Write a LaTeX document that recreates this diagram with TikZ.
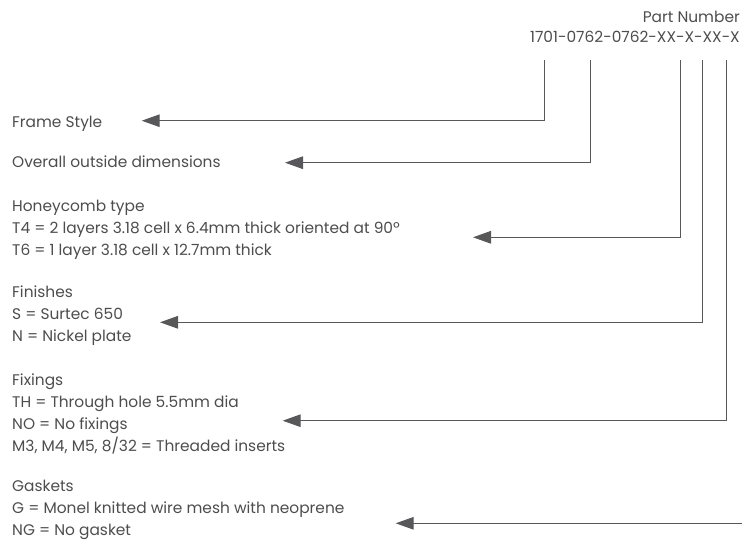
\documentclass[tikz,border=0pt]{standalone}
\usepackage{fontspec}
\setmainfont{Poppins}
\usetikzlibrary{arrows.meta}
\definecolor{txtgrey}{HTML}{4D4D4F}
\definecolor{linegrey}{HTML}{58585A}

\begin{document}
\begin{tikzpicture}[x=1pt,y=-1pt,
  lbl/.style={anchor=base west,align=left,inner sep=0pt,text=txtgrey,font=\fontsize{15.4}{22}\selectfont},
  code/.style={anchor=base east,inner sep=0pt,text=txtgrey,font=\fontsize{15.4}{22}\selectfont},
  lead/.style={draw=linegrey,line width=1pt,-{Triangle[length=18pt,width=12.6pt]}}]

\useasboundingbox (0,0) rectangle (742,539);

% part number
\node[code] (title) at (740,22) {Part Number};
\node[code] (pn) at (740,42) {1701-0762-0762-XX-X-XX-X};

% descriptions (base = last line)
\node[lbl] (frame) at (12,127.5) {Frame Style};
\node[lbl] (dims) at (12,167.5) {Overall outside dimensions};
\node[lbl] (honey) at (12,255) {Honeycomb type\\T4 = 2 layers 3.18 cell x 6.4mm thick oriented at 90º\\T6 = 1 layer 3.18 cell x 12.7mm thick};
\node[lbl] (finish) at (12,341) {Finishes\\S = Surtec 650\\N = Nickel plate};
\node[lbl] (fix) at (12,451) {Fixings\\TH = Through hole 5.5mm dia\\NO = No fixings\\M3, M4, M5, 8/32 = Threaded inserts};
\node[lbl] (gasket) at (12,535) {Gaskets\\G = Monel knitted wire mesh with neoprene\\NG = No gasket};

% leader tops and arrow tips
\coordinate (s1) at (544.3,60);
\coordinate (s2) at (590.3,60);
\coordinate (s3) at (680,60);
\coordinate (s4) at (702.3,60);
\coordinate (s5) at (726.7,60);
\coordinate (s6) at (742,523.3);
\coordinate (t1) at (141.7,120.7);
\coordinate (t2) at (285,162.7);
\coordinate (t3) at (473,237.3);
\coordinate (t4) at (160,322.3);
\coordinate (t5) at (282.7,420.7);
\coordinate (t6) at (395.7,523.3);

\draw[lead] (s1) |- (t1);
\draw[lead] (s2) |- (t2);
\draw[lead] (s3) |- (t3);
\draw[lead] (s4) |- (t4);
\draw[lead] (s5) |- (t5);
\draw[lead] (s6) -- (t6);
\end{tikzpicture}
\end{document}
